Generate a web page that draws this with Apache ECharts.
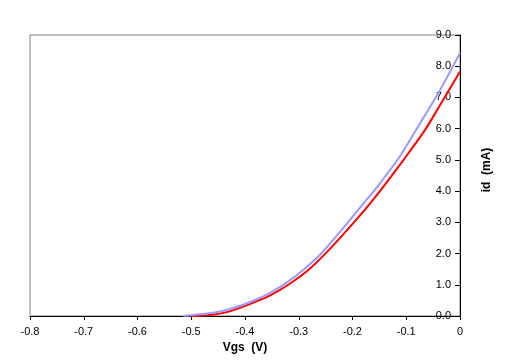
<!DOCTYPE html>
<html>
<head>
<meta charset="utf-8">
<script src="https://cdn.jsdelivr.net/npm/echarts@6/dist/echarts.min.js"></script>
<style>html,body{margin:0;padding:0;background:#fff}#c{width:507px;height:362px}</style>
</head>
<body>
<div id="c"></div>
<script>
// Data
const vgsBlue = [-0.515, -0.470, -0.440, -0.410, -0.380, -0.350, -0.320, -0.290, -0.260, -0.223, -0.186, -0.167, -0.149, -0.112, -0.074, -0.037, 0];
const idBlue  = [0, 0.08, 0.17, 0.32, 0.52, 0.77, 1.10, 1.50, 1.97, 2.70, 3.47, 3.86, 4.25, 5.11, 6.18, 7.24, 8.42];
const vgsRed  = [-0.500, -0.460, -0.430, -0.391, -0.353, -0.316, -0.279, -0.235, -0.186, -0.149, -0.105, -0.065, -0.037, 0];
const idRed   = [0, 0.04, 0.14, 0.38, 0.66, 1.04, 1.52, 2.28, 3.22, 4.00, 5.00, 5.96, 6.76, 7.83];
const xTicks = { min: -0.8, max: 0, step: 0.1 };
const yTicks = { min: 0, max: 9, step: 1 };
const xTitle = 'Vgs  (V)';
const yTitle = 'id  (mA)';

const zip = (a, b) => a.map((v, i) => [v, b[i]]);
const font = 'Liberation Sans, Arial, sans-serif';

const chart = echarts.init(document.getElementById('c'), null, { renderer: 'canvas' });
chart.setOption({
  animation: false,
  backgroundColor: '#fff',
  grid: { left: 30, right: 47, top: 35, bottom: 46, show: true, borderColor: '#808080', borderWidth: 1, backgroundColor: '#fff' },
  xAxis: {
    type: 'value', min: xTicks.min, max: xTicks.max, interval: xTicks.step,
    name: xTitle, nameLocation: 'middle', nameGap: 22,
    nameTextStyle: { fontFamily: font, fontSize: 12, fontWeight: 'bold', color: '#000' },
    axisLine: { onZero: false, lineStyle: { color: '#000', width: 1 } },
    axisTick: { length: 4, lineStyle: { color: '#000' } },
    axisLabel: { margin: 10, fontFamily: font, fontSize: 11, color: '#000' },
    splitLine: { show: false }
  },
  yAxis: {
    type: 'value', position: 'right', min: yTicks.min, max: yTicks.max, interval: yTicks.step,
    axisLine: { show: true, lineStyle: { color: '#000', width: 1 } },
    axisTick: { show: true, inside: true, length: 5, lineStyle: { color: '#000' } },
    axisLabel: { inside: true, margin: 9, fontFamily: font, fontSize: 11, color: '#000', formatter: v => v.toFixed(1) },
    splitLine: { show: false }
  },
  graphic: [{
    type: 'text', x: 487, y: 170, rotation: Math.PI / 2,
    style: { text: yTitle, fontFamily: font, fontSize: 12, fontWeight: 'bold', fill: '#000', align: 'center', verticalAlign: 'middle' }
  }],
  series: [
    { type: 'line', data: zip(vgsRed, idRed), showSymbol: false, smooth: 0.3, lineStyle: { color: '#FF0000', width: 2 }, z: 2 },
    { type: 'line', data: zip(vgsBlue, idBlue), showSymbol: false, smooth: 0.3, lineStyle: { color: '#9999FF', width: 2 }, z: 3 }
  ]
});
</script>
</body>
</html>
